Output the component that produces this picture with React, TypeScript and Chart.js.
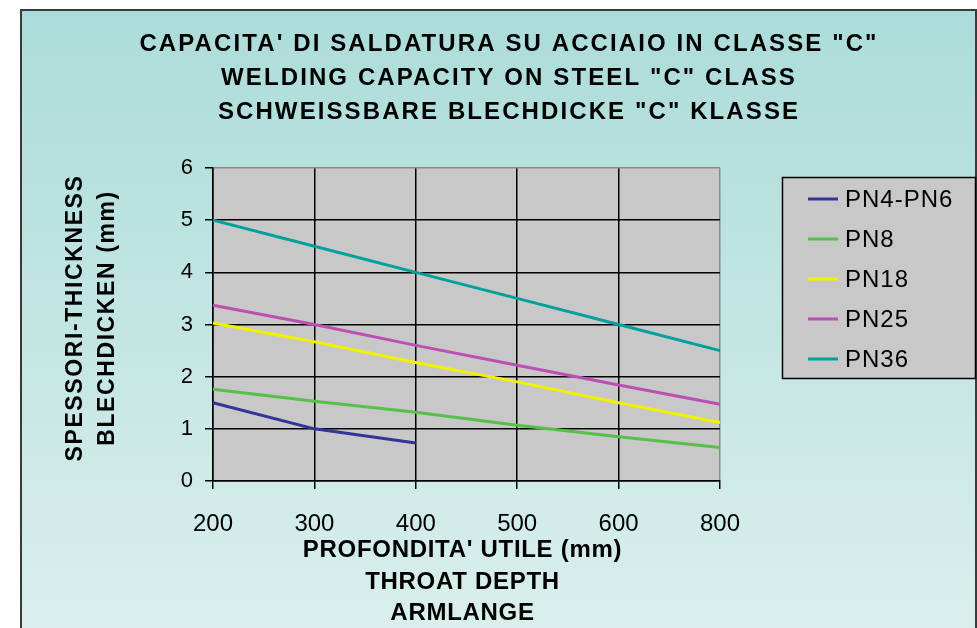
import React, { useEffect, useRef } from 'react';
import { Chart, registerables } from 'chart.js';

Chart.register(...registerables);

// ---- data ----
const categories = ['200', '300', '400', '500', '600', '800'];
const seriesNames = ['PN4-PN6', 'PN8', 'PN18', 'PN25', 'PN36'];
const pn4pn6 = [1.5, 1.0, 0.73, null, null, null];
const pn8 = [1.76, 1.53, 1.32, 1.07, 0.85, 0.64];
const pn18 = [3.03, 2.67, 2.27, 1.9, 1.5, 1.12];
const pn25 = [3.37, 3.0, 2.6, 2.22, 1.84, 1.47];
const pn36 = [5.0, 4.5, 4.0, 3.5, 3.0, 2.5];
const seriesColors = ['#333399', '#55c04a', '#f2f200', '#bb4fb4', '#00a09c'];
const yMin = 0;
const yMax = 6;
const yStep = 1;

const titleLines = [
  'CAPACITA\' DI SALDATURA SU ACCIAIO IN CLASSE "C"',
  'WELDING CAPACITY ON STEEL "C" CLASS',
  'SCHWEISSBARE BLECHDICKE "C" KLASSE',
];
const yTitleLines = ['SPESSORI-THICKNESS', 'BLECHDICKEN (mm)'];
const xTitleLines = ["PROFONDITA' UTILE (mm)", 'THROAT DEPTH', 'ARMLANGE'];

const FONT = '"Liberation Sans", Arial, sans-serif';

const decorPlugin = {
  id: 'decor',
  beforeDraw(chart: any) {
    const { ctx, width, height, chartArea } = chart;
    ctx.save();
    ctx.fillStyle = '#ffffff';
    ctx.fillRect(0, 0, width, height);
    const g = ctx.createLinearGradient(0, 9, 0, height);
    g.addColorStop(0, '#abdcd9');
    g.addColorStop(1, '#daefec');
    ctx.fillStyle = g;
    ctx.fillRect(20, 9, width - 20, height - 9);
    ctx.strokeStyle = '#3a3a3a';
    ctx.lineWidth = 2;
    ctx.strokeRect(21, 10, width - 22, height + 10);
    // plot area
    ctx.fillStyle = '#c8c8c8';
    ctx.fillRect(chartArea.left, chartArea.top, chartArea.right - chartArea.left, chartArea.bottom - chartArea.top);
    ctx.restore();
  },
  afterDraw(chart: any) {
    const { ctx, chartArea } = chart;
    ctx.save();
    ctx.fillStyle = '#000000';
    // main title
    ctx.font = `bold 24px ${FONT}`;
    (ctx as any).letterSpacing = '2.1px';
    ctx.textAlign = 'center';
    ctx.textBaseline = 'alphabetic';
    const titleBase = [51, 85, 119];
    titleLines.forEach((t, i) => ctx.fillText(t, 509, titleBase[i]));

    // y title (rotated)
    (ctx as any).letterSpacing = '1.6px';
    ctx.font = `bold 23px ${FONT}`;
    const yBase = [82, 114];
    yTitleLines.forEach((t, i) => {
      ctx.save();
      ctx.translate(yBase[i], 318);
      ctx.rotate(-Math.PI / 2);
      ctx.fillText(t, 0, 0);
      ctx.restore();
    });

    // x title
    (ctx as any).letterSpacing = '0.7px';
    ctx.font = `bold 24px ${FONT}`;
    const cx = (chartArea.left + chartArea.right) / 2 - 4;
    const xBase = [557, 589, 620];
    xTitleLines.forEach((t, i) => ctx.fillText(t, cx, xBase[i]));

    // legend
    const lx = 782, ly = 177, lw = 194, lh = 202;
    ctx.fillStyle = '#c8c8c8';
    ctx.fillRect(lx, ly, lw, lh);
    ctx.strokeStyle = '#000000';
    ctx.lineWidth = 1.5;
    ctx.strokeRect(lx + 0.5, ly + 0.5, lw - 1, lh - 1);
    (ctx as any).letterSpacing = '1px';
    ctx.font = `24px ${FONT}`;
    ctx.textAlign = 'left';
    ctx.textBaseline = 'middle';
    chart.data.datasets.forEach((ds: any, i: number) => {
      const y = 199 + i * 40;
      ctx.strokeStyle = ds.borderColor;
      ctx.lineWidth = 3;
      ctx.beginPath();
      ctx.moveTo(808, y);
      ctx.lineTo(838, y);
      ctx.stroke();
      ctx.fillStyle = '#000000';
      ctx.fillText(ds.label, 845, y + 1);
    });
    ctx.restore();
  },
};

export default function App() {
  const ref = useRef<HTMLCanvasElement | null>(null);
  useEffect(() => {
    if (!ref.current) return;
    const series = [pn4pn6, pn8, pn18, pn25, pn36];
    const chart = new Chart(ref.current, {
      type: 'line',
      data: {
        labels: categories,
        datasets: series.map((d, i) => ({
          label: seriesNames[i],
          data: d,
          borderColor: seriesColors[i],
          backgroundColor: seriesColors[i],
          borderWidth: 3,
          pointRadius: 0,
          tension: 0,
          spanGaps: false,
        })),
      },
      options: {
        animation: false,
        responsive: false,
        devicePixelRatio: 1,
        layout: { padding: { top: 168, right: 257, left: 0, bottom: 0 } },
        plugins: {
          legend: { display: false },
          title: { display: false },
          tooltip: { enabled: false },
        },
        scales: {
          x: {
            type: 'category',
            offset: false,
            afterFit: (s: any) => { s.height = 147; },
            grid: {
              offset: false,
              color: (c: any) => (c.index === categories.length - 1 ? '#8a8a8a' : '#000000'),
              tickColor: '#000000',
              lineWidth: 1.5,
              tickLength: 8,
            },
            border: { color: '#000000', width: 1.5 },
            ticks: {
              color: '#000000',
              font: { family: FONT, size: 24 },
              padding: 21,
              maxRotation: 0,
              autoSkip: false,
            },
          },
          y: {
            min: yMin,
            max: yMax,
            afterFit: (s: any) => { s.width = 213; },
            grid: {
              color: (c: any) => (c.tick && c.tick.value === yMax ? '#8a8a8a' : '#000000'),
              tickColor: '#000000',
              lineWidth: 1.5,
              tickLength: 8,
            },
            border: { color: '#000000', width: 1.5 },
            ticks: {
              stepSize: yStep,
              color: '#000000',
              font: { family: FONT, size: 22 },
              padding: 12,
            },
          },
        },
      },
      plugins: [decorPlugin],
    });
    return () => chart.destroy();
  }, []);
  return (
    <div style={{ position: 'absolute', left: 0, top: 0, width: 977, height: 628 }}>
      <canvas ref={ref} width={977} height={628} style={{ display: 'block', width: 977, height: 628 }} />
    </div>
  );
}
